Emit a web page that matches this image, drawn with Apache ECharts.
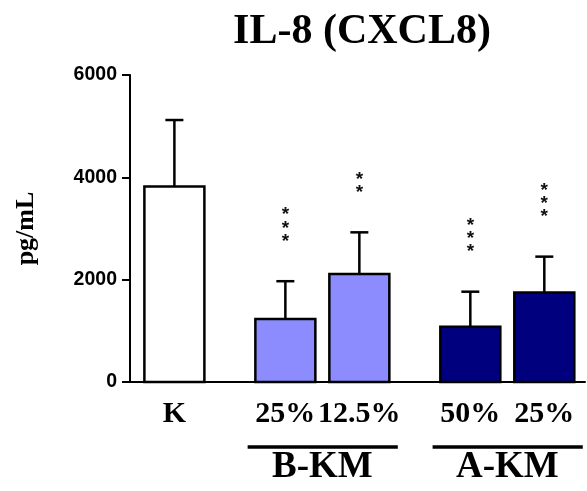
<!DOCTYPE html>
<html>
<head>
<meta charset="utf-8">
<script src="https://cdn.jsdelivr.net/npm/echarts@6/dist/echarts.min.js"></script>
<style>
  html, body { margin: 0; padding: 0; background: #fff; }
  #chart { width: 587px; height: 491px; }
</style>
</head>
<body>
<div id="chart"></div>
<script>
// IL-8 concentration per treatment (mean and upper error, pg/mL)
const categories = ['K', '25%', '12.5%', '50%', '25%'];
const groupOf = ['', 'B-KM', 'B-KM', 'A-KM', 'A-KM'];
const means = [3820, 1230, 2110, 1080, 1750];
const errors = [1300, 740, 815, 685, 700];
const stars = ['', '***', '**', '***', '***'];
const yTicks = [0, 2000, 4000, 6000];

const SERIF = '"Liberation Serif", "Times New Roman", serif';
const SANS = '"Liberation Sans", Arial, sans-serif';
const fillFor = { '': '#ffffff', 'B-KM': '#8c8cff', 'A-KM': '#00007f' };
const BAR_W = 60;

// Slot positions along x: members of a group sit 2 units apart, groups 3 units apart
const xPos = [];
categories.forEach((c, i) => {
  if (i === 0) xPos.push(0);
  else xPos.push(xPos[i - 1] + (groupOf[i] === groupOf[i - 1] ? 2 : 3));
});

// Group spans (first and last member position)
const groupSpans = [];
groupOf.forEach((g, i) => {
  if (!g) return;
  let s = groupSpans.find(d => d.name === g);
  if (!s) { s = { name: g, from: xPos[i], to: xPos[i] }; groupSpans.push(s); }
  s.to = xPos[i];
});

const chart = echarts.init(document.getElementById('chart'), null, { renderer: 'canvas' });

const option = {
  animation: false,
  backgroundColor: '#ffffff',
  title: {
    text: 'IL-8 (CXCL8)',
    left: 357,
    textAlign: 'center',
    top: 6,
    textStyle: { fontFamily: SERIF, fontWeight: 'bold', fontSize: 42, color: '#000' }
  },
  grid: { left: 130, right: 2, top: 75, bottom: 109, containLabel: false },
  xAxis: {
    type: 'value',
    min: -1.2,
    max: 11.1,
    axisLine: { show: true, onZero: false, lineStyle: { color: '#000', width: 2 } },
    axisTick: { show: false },
    axisLabel: { show: false },
    splitLine: { show: false }
  },
  yAxis: {
    type: 'value',
    min: yTicks[0],
    max: yTicks[yTicks.length - 1],
    interval: yTicks[1] - yTicks[0],
    name: 'pg/mL',
    nameLocation: 'middle',
    nameRotate: 90,
    nameGap: 91,
    nameTextStyle: { fontFamily: SERIF, fontWeight: 'bold', fontSize: 26, color: '#000' },
    axisLine: { show: true, onZero: false, lineStyle: { color: '#000', width: 2 } },
    axisTick: { show: true, length: 8, lineStyle: { color: '#000', width: 2 } },
    axisLabel: {
      margin: 13,
      formatter: v => String(v),
      fontFamily: SANS, fontWeight: 'bold', fontSize: 19.5, color: '#000'
    },
    splitLine: { show: false }
  },
  series: [
    {
      // bars with black outline
      type: 'custom',
      data: means.map((v, i) => [xPos[i], v, i]),
      renderItem: (params, api) => {
        const i = api.value(2);
        const top = api.coord([api.value(0), api.value(1)]);
        const base = api.coord([api.value(0), 0]);
        return {
          type: 'rect',
          shape: { x: top[0] - BAR_W / 2, y: top[1], width: BAR_W, height: base[1] - top[1] },
          style: { fill: fillFor[groupOf[i]], stroke: '#000', lineWidth: 2.5 }
        };
      },
      z: 2
    },
    {
      // upper error bars with caps
      type: 'custom',
      data: means.map((v, i) => [xPos[i], v, v + errors[i]]),
      renderItem: (params, api) => {
        const base = api.coord([api.value(0), api.value(1)]);
        const top = api.coord([api.value(0), api.value(2)]);
        const half = 9;
        return {
          type: 'group',
          children: [
            { type: 'line', shape: { x1: base[0], y1: base[1], x2: top[0], y2: top[1] },
              style: { stroke: '#000', lineWidth: 2.5 } },
            { type: 'line', shape: { x1: top[0] - half, y1: top[1], x2: top[0] + half, y2: top[1] },
              style: { stroke: '#000', lineWidth: 2.5 } }
          ]
        };
      },
      z: 3
    },
    {
      // significance asterisks stacked above the error bars
      type: 'custom',
      data: means.map((v, i) => [xPos[i], v + errors[i], i]),
      renderItem: (params, api) => {
        const i = api.value(2);
        const s = stars[i];
        if (!s) return null;
        const top = api.coord([api.value(0), api.value(1)]);
        return {
          type: 'text',
          style: {
            text: s.split('').join('\n'),
            x: top[0],
            y: top[1] - 33,
            align: 'center',
            verticalAlign: 'bottom',
            fontFamily: SANS,
            fontWeight: 'bold',
            fontSize: 19,
            lineHeight: 13.2,
            fill: '#111'
          }
        };
      },
      z: 4
    },
    {
      // category labels under each bar
      type: 'custom',
      data: categories.map((c, i) => [xPos[i], 0, i]),
      renderItem: (params, api) => {
        const p = api.coord([api.value(0), api.value(1)]);
        return {
          type: 'text',
          style: {
            text: categories[api.value(2)],
            x: p[0],
            y: p[1] + 32,
            align: 'center',
            verticalAlign: 'middle',
            fontFamily: SERIF,
            fontWeight: 'bold',
            fontSize: 30,
            fill: '#000'
          }
        };
      },
      z: 4
    },
    {
      // group underline and group name
      type: 'custom',
      data: groupSpans.map((g, k) => [g.from, g.to, k]),
      renderItem: (params, api) => {
        const a = api.coord([api.value(0) - 1.02, 0]);
        const b = api.coord([api.value(1) + 1.04, 0]);
        const mid = api.coord([(api.value(0) + api.value(1)) / 2, 0]);
        const lineY = a[1] + 65;
        return {
          type: 'group',
          children: [
            { type: 'line', shape: { x1: a[0], y1: lineY, x2: b[0], y2: lineY },
              style: { stroke: '#000', lineWidth: 3.5 } },
            { type: 'text', style: {
                text: groupSpans[api.value(2)].name,
                x: mid[0],
                y: lineY + 20,
                align: 'center',
                verticalAlign: 'middle',
                fontFamily: SERIF,
                fontWeight: 'bold',
                fontSize: 37,
                fill: '#000'
              } }
          ]
        };
      },
      z: 4
    }
  ]
};

chart.setOption(option);
</script>
</body>
</html>
